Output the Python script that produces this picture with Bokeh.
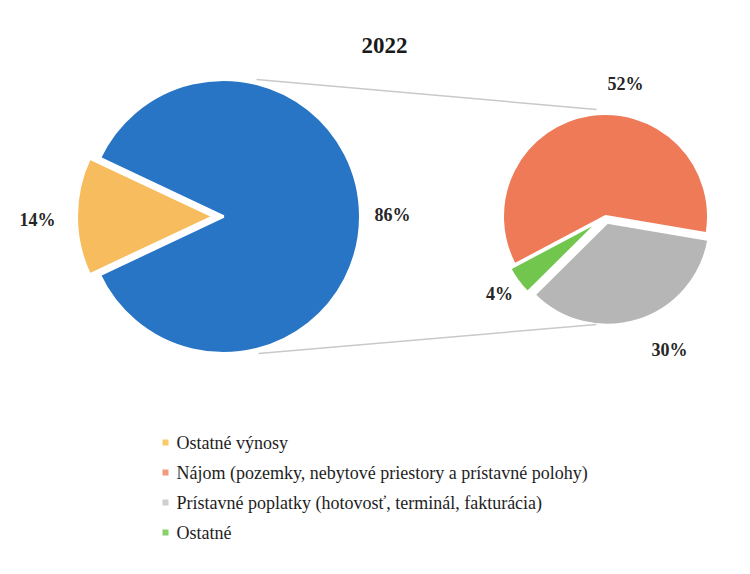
import numpy as np
from bokeh.plotting import figure
from bokeh.models import Range1d
from bokeh.core.properties import value
from bokeh.embed import file_html
from bokeh.resources import INLINE

# ---- data ----
title = "2022"
main_labels = ["Ostatné výnosy", "Ostatné 86%"]
main_values = [14, 86]
main_colors = ["#F7BC5E", "#2975C5"]
sub_labels = ["Nájom (pozemky, nebytové priestory a prístavné polohy)",
              "Prístavné poplatky (hotovosť, terminál, fakturácia)",
              "Ostatné"]
sub_values = [52, 30, 4]
sub_colors = ["#EE7A57", "#B6B6B6", "#72C64E"]
legend_labels = ["Ostatné výnosy"] + sub_labels
legend_colors = ["#F9C96A", "#F29A80", "#CFCFCF", "#86D16A"]

W, H = 734, 558
p = figure(width=W, height=H, output_backend="svg", toolbar_location=None,
           x_range=Range1d(-8, W - 8), y_range=Range1d(8, H + 8), min_border=0)
p.axis.visible = False
p.grid.visible = False
p.outline_line_color = None

# ---- main pie (left) ----
cx, cy, R = 215, 350, 137
frac = np.array(main_values, dtype=float) / sum(main_values)
half = frac[0] * np.pi
starts = [np.pi - half, np.pi + half]
ends = [np.pi + half, np.pi - half + 2 * np.pi]
explode = [10, 0]
mids = [(s + e) / 2 for s, e in zip(starts, ends)]
xs = [cx + d * np.cos(m) for d, m in zip(explode, mids)]
ys = [cy + d * np.sin(m) for d, m in zip(explode, mids)]
order = [1, 0]
p.wedge(x=[xs[i] for i in order], y=[ys[i] for i in order], radius=R,
        start_angle=[starts[i] for i in order], end_angle=[ends[i] for i in order],
        fill_color=[main_colors[i] for i in order], line_color="white", line_width=3)

# ---- sub pie (right) ----
scx, scy, sR = 597, 350, 103
sf = np.array(sub_values, dtype=float) / sum(sub_values)
start0 = np.deg2rad(208.0)
s_starts, s_ends = [], []
a = start0
for f in sf:
    b = a - f * 2 * np.pi
    s_starts.append(b)
    s_ends.append(a)
    a = b
s_explode = [0, 6, 6]
s_mid = [(s + e) / 2 for s, e in zip(s_starts, s_ends)]
sxs = [scx + d * np.cos(m) for d, m in zip(s_explode, s_mid)]
sys_ = [scy + d * np.sin(m) for d, m in zip(s_explode, s_mid)]
p.wedge(x=sxs, y=sys_, radius=sR, start_angle=s_starts, end_angle=s_ends,
        fill_color=sub_colors, line_color="white", line_width=3)

# ---- connector lines ----
p.segment(x0=[cx + 33, cx + 35], y0=[cy + 137, cy - 137],
          x1=[scx - 9, scx - 9], y1=[scy + 107, scy - 108],
          line_color="#C9C9C9", line_width=1.5)

# ---- labels ----
lab_font = value("Liberation Serif")
p.text(x=[29, 384], y=[347, 352],
       text=[f"{v}%" for v in main_values],
       text_font=lab_font, text_font_style="bold", text_font_size="18px",
       text_color="#262626", text_align="center", text_baseline="middle")
p.text(x=[617, 661, 491], y=[483, 217, 273],
       text=[f"{v}%" for v in sub_values],
       text_font=lab_font, text_font_style="bold", text_font_size="18px",
       text_color="#262626", text_align="center", text_baseline="middle")
p.text(x=[376], y=[521], text=[title], text_font=lab_font,
       text_font_style="bold", text_font_size="23px", text_color="#1a1a1a",
       text_align="center", text_baseline="middle")

# ---- legend ----
ly = [124 - 30 * i for i in range(len(legend_labels))]
p.scatter(x=[157] * len(ly), y=ly, marker="square", size=6,
          fill_color=legend_colors, line_color=None)
p.text(x=[168] * len(ly), y=ly, text=legend_labels, text_font=lab_font,
       text_font_size="18px", text_color="#1e1e1e", text_align="left",
       text_baseline="middle")

open("out.html", "w").write(file_html(p, INLINE))
